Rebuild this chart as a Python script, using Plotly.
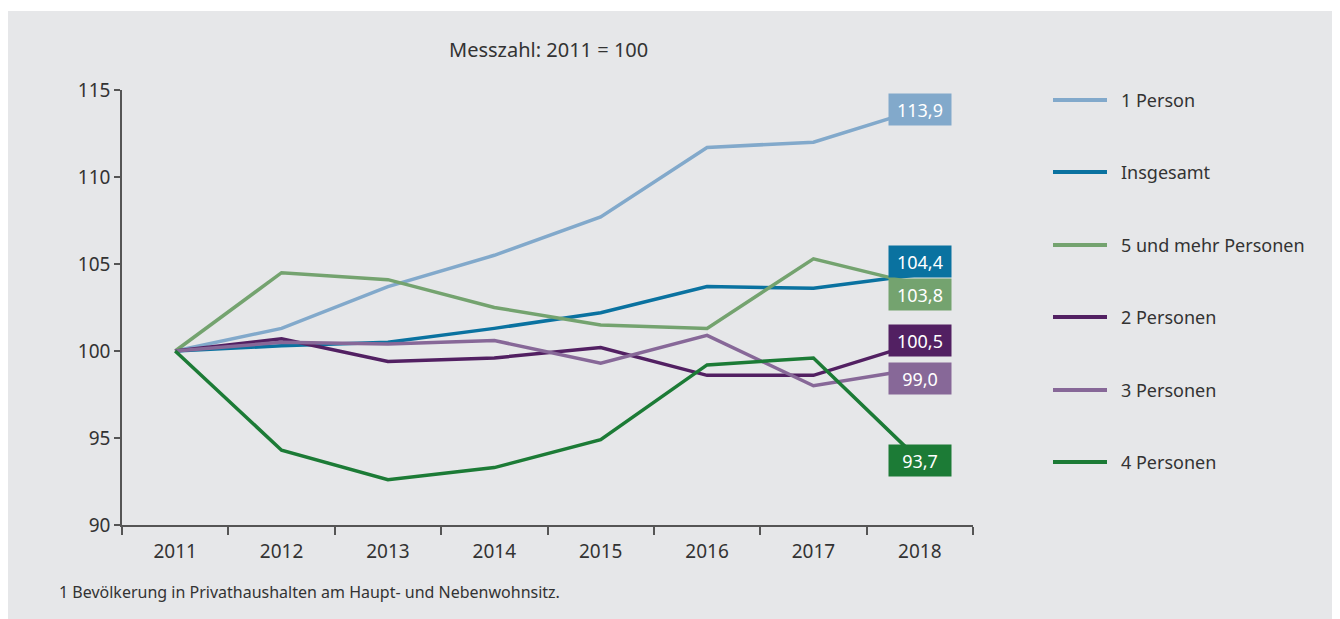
import plotly.graph_objects as go

years = ["2011", "2012", "2013", "2014", "2015", "2016", "2017", "2018"]

person1 = [100, 101.3, 103.7, 105.5, 107.7, 111.7, 112.0, 113.9]
insgesamt = [100, 100.3, 100.5, 101.3, 102.2, 103.7, 103.6, 104.4]
person5plus = [100, 104.5, 104.1, 102.5, 101.5, 101.3, 105.3, 103.8]
person2 = [100, 100.7, 99.4, 99.6, 100.2, 98.6, 98.6, 100.5]
person3 = [100, 100.5, 100.4, 100.6, 99.3, 100.9, 98.0, 99.0]
person4 = [100, 94.3, 92.6, 93.3, 94.9, 99.2, 99.6, 93.7]

names = ["1 Person", "Insgesamt", "5 und mehr Personen", "2 Personen", "3 Personen", "4 Personen"]
series = [person1, insgesamt, person5plus, person2, person3, person4]
colors = ["#82a9cb", "#0a72a0", "#74a36f", "#522062", "#876898", "#1c7b36"]
label_shift = [0, 13, -10, 2, -10, 0]

FONT = "Noto Sans"
# page body adds an 8px offset, so work in reference pixels minus 8
OFF = 8
W, H = 1340 - OFF, 619 - OFF
L, R, T, B = 122 - OFF, 1340 - 973, 90 - OFF, 619 - 525
pw, ph = W - L - R, H - T - B


def px(x):
    return (x - OFF - L) / pw


def py(y):
    return (H - B - (y - OFF)) / ph


fig = go.Figure()
for name, vals, col in zip(names, series, colors):
    fig.add_trace(go.Scatter(x=years, y=vals, name=name, mode="lines",
                             line=dict(color=col, width=3.5), showlegend=False))

# end value boxes
for vals, col, sh in zip(series, colors, label_shift):
    fig.add_annotation(x=len(years) - 1, y=vals[-1], xref="x", yref="y",
                       text=f"{vals[-1]:.1f}".replace(".", ","),
                       showarrow=False, bgcolor=col, width=54, height=23, borderpad=4,
                       yshift=sh, font=dict(family=FONT, size=18, color="white"))

# legend drawn by hand to match spacing
leg_y = [100, 172, 245, 317, 390, 462]
for name, col, yy in zip(names, colors, leg_y):
    fig.add_shape(type="line", xref="paper", yref="paper", x0=px(1053), x1=px(1107),
                  y0=py(yy), y1=py(yy), line=dict(color=col, width=4))
    fig.add_annotation(xref="paper", yref="paper", x=px(1119), y=py(yy), text=name,
                       showarrow=False, xanchor="left", yanchor="middle",
                       font=dict(family=FONT, size=18, color="#333333"))

# grey background panel
fig.add_shape(type="rect", xref="paper", yref="paper", layer="below",
              x0=px(7), x1=px(1345), y0=py(625), y1=py(11),
              fillcolor="#e6e7e9", line=dict(width=0))

fig.add_annotation(xref="paper", yref="paper", x=px(548), y=py(50), text="Messzahl: 2011 = 100",
                   showarrow=False, xanchor="center", yanchor="middle",
                   font=dict(family=FONT, size=20, color="#333333"))
fig.add_annotation(xref="paper", yref="paper", x=px(57), y=py(592),
                   text="1 Bevölkerung in Privathaushalten am Haupt- und Nebenwohnsitz.",
                   showarrow=False, xanchor="left", yanchor="middle",
                   font=dict(family=FONT, size=16, color="#333333"))

fig.update_layout(
    width=W, height=H,
    margin=dict(l=L, r=R, t=T, b=B),
    paper_bgcolor="white",
    plot_bgcolor="rgba(0,0,0,0)",
    font=dict(family=FONT, size=19, color="#333333"),
)
fig.update_xaxes(type="category", range=[-0.5, 7.5], showgrid=False, zeroline=False,
                 showline=True, linecolor="#555555", linewidth=1.5,
                 ticks="outside", tickson="boundaries", ticklen=8, tickcolor="#555555",
                 tickwidth=1.5, ticklabelstandoff=8)
fig.update_yaxes(range=[90, 115], tickvals=[90, 95, 100, 105, 110, 115], showgrid=False,
                 zeroline=False, showline=True, linecolor="#555555", linewidth=1.5,
                 ticks="outside", ticklen=6, tickcolor="#555555", tickwidth=1.5)

fig.write_html("out.html")
